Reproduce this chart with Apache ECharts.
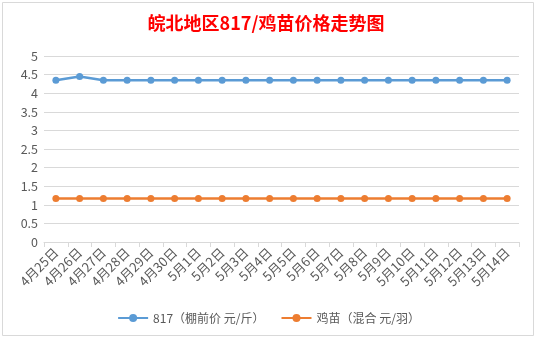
<!DOCTYPE html>
<html><head><meta charset="utf-8">
<script src="https://cdn.jsdelivr.net/npm/echarts@6/dist/echarts.min.js"></script>
<style>html,body{margin:0;padding:0;background:#fff;}#c{width:537px;height:341px;}</style>
</head><body><div id="c"></div>
<script>
const categories = ['4月25日','4月26日','4月27日','4月28日','4月29日','4月30日','5月1日','5月2日','5月3日','5月4日','5月5日','5月6日','5月7日','5月8日','5月9日','5月10日','5月11日','5月12日','5月13日','5月14日'];
const price817 = [4.35,4.45,4.35,4.35,4.35,4.35,4.35,4.35,4.35,4.35,4.35,4.35,4.35,4.35,4.35,4.35,4.35,4.35,4.35,4.35];
const chickPrice = [1.17,1.17,1.17,1.17,1.17,1.17,1.17,1.17,1.17,1.17,1.17,1.17,1.17,1.17,1.17,1.17,1.17,1.17,1.17,1.17];
const yTicks = ['0','0.5','1','1.5','2','2.5','3','3.5','4','4.5','5'];
const seriesNames = ['817（棚前价 元/斤）','鸡苗（混合 元/羽）'];

const chart = echarts.init(document.getElementById('c'));
const font = '"Noto Sans CJK SC", "Noto Sans", sans-serif';
chart.setOption({
  backgroundColor:'#fff',
  textStyle:{fontFamily:font},
  title:{text:'皖北地区817/鸡苗价格走势图', left:261, top:9, textAlign:'center',
    textStyle:{color:'#ff0000', fontSize:18, fontWeight:'bold', fontFamily:font}},
  graphic:[{type:'rect', shape:{x:2.5,y:2.5,width:531,height:333}, style:{fill:'none',stroke:'#d9d9d9',lineWidth:1}, silent:true}],
  grid:{left:44, right:18, top:56, bottom:99},
  legend:{bottom:12, left:'center', itemWidth:30, itemHeight:10, itemGap:16,
    textStyle:{color:'#595959', fontSize:12, fontFamily:font},
    data:seriesNames},
  xAxis:{type:'category', data:categories, boundaryGap:true,
    axisLine:{lineStyle:{color:'#d9d9d9'}},
    axisTick:{show:true, length:5, lineStyle:{color:'#d9d9d9'}},
    axisLabel:{rotate:45, color:'#595959', fontSize:13, interval:0, margin:8, fontFamily:font}},
  yAxis:{type:'value', min:0, max:5, interval:0.5,
    axisLine:{show:false}, axisTick:{show:false},
    axisLabel:{color:'#595959', fontSize:12.5, margin:6, fontFamily:font,
      formatter:function(v){ return yTicks[Math.round(v*2)] || ''; }},
    splitLine:{lineStyle:{color:'#d9d9d9'}}},
  series:[
    {name:seriesNames[0], type:'line', data:price817, symbol:'circle', symbolSize:7,
      lineStyle:{color:'#5b9bd5', width:2.5}, itemStyle:{color:'#5b9bd5'}},
    {name:seriesNames[1], type:'line', data:chickPrice, symbol:'circle', symbolSize:7,
      lineStyle:{color:'#ed7d31', width:2.5}, itemStyle:{color:'#ed7d31'}}
  ]
});
</script></body></html>
